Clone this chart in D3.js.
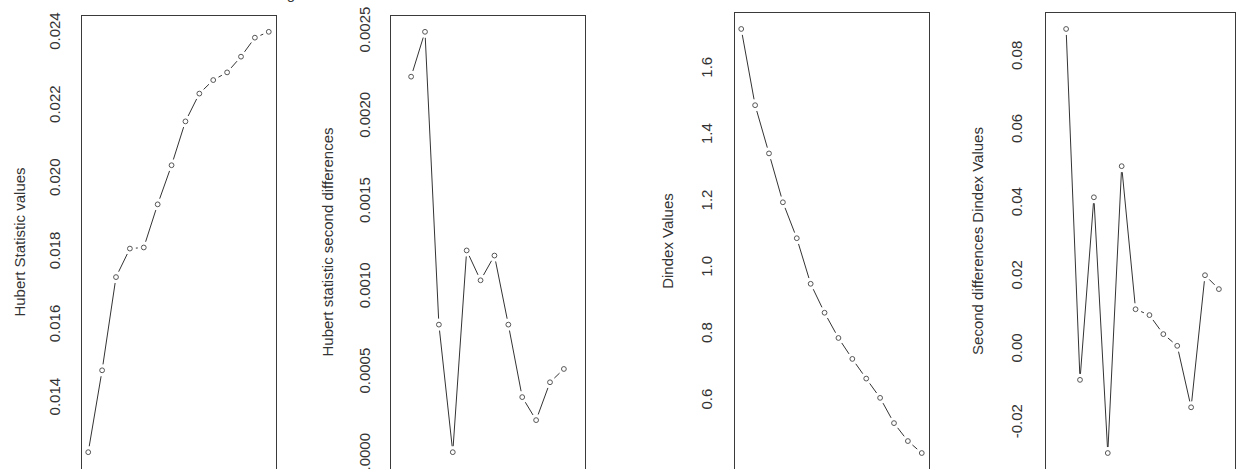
<!DOCTYPE html>
<html>
<head>
<meta charset="utf-8">
<script src="https://cdn.jsdelivr.net/npm/d3@7"></script>
<style>
  html, body { margin: 0; padding: 0; background: #fff; }
  svg { display: block; font-family: "Liberation Sans", Arial, sans-serif; }
</style>
</head>
<body>
<svg id="chart" width="1237" height="469"></svg>
<script>
// number of clusters on the (cropped) x axis
const clusters = [2, 3, 4, 5, 6, 7, 8, 9, 10, 11, 12, 13, 14, 15];
const diffClusters = [3, 4, 5, 6, 7, 8, 9, 10, 11, 12, 13, 14];

// values
const hubert = [0.01248, 0.01472, 0.01727, 0.01805, 0.01808, 0.01926, 0.02033,
  0.02153, 0.02229, 0.02266, 0.02287, 0.02330, 0.02382, 0.02398];
const hubertDiff = [0.002224, 0.002487, 0.000770, 0.000022, 0.001205, 0.001030,
  0.001175, 0.000770, 0.000345, 0.000210, 0.000432, 0.000510];
const dindex = [1.7155, 1.4857, 1.3404, 1.1931, 1.0848, 0.9474, 0.8602,
  0.7841, 0.7210, 0.6617, 0.6036, 0.5275, 0.4734, 0.4373];
const dindexDiff = [0.0872, -0.0087, 0.0412, -0.0287, 0.0497, 0.0106,
  0.0090, 0.0038, 0.0006, -0.0162, 0.0199, 0.0161];

// tick labels
const hubertTicks = [0.014, 0.016, 0.018, 0.020, 0.022, 0.024];
const hubertDiffTicks = [0, 0.0005, 0.0010, 0.0015, 0.0020, 0.0025];
const dindexTicks = [0.6, 0.8, 1.0, 1.2, 1.4, 1.6];
const dindexDiffTicks = [-0.02, 0, 0.02, 0.04, 0.06, 0.08];

const svg = d3.select('#chart');

// R prints a plain hyphen for negatives
const rfmt = spec => {
  const f = d3.format(spec);
  return d => f(d).replace('\u2212', '-');
};

// R style plot panels, bottom part is cut off by the window
const panels = [
  { left: 81, width: 195, top: 15, bottom: 469, xs: clusters, ys: hubert,
    ticks: hubertTicks, fmt: rfmt('.3f'), title: 'Hubert Statistic values', tickOff: 21, titleOff: 56 },
  { left: 390, width: 195, top: 15, bottom: 469, xs: diffClusters, ys: hubertDiff,
    ticks: hubertDiffTicks, fmt: rfmt('.4f'), title: 'Hubert statistic second differences', tickOff: 20, titleOff: 57 },
  { left: 734, width: 195, top: 12, bottom: 470, xs: clusters, ys: dindex,
    ticks: dindexTicks, fmt: rfmt('.1f'), title: 'Dindex Values', tickOff: 22, titleOff: 61 },
  { left: 1045, width: 190, top: 12, bottom: 470, xs: diffClusters, ys: dindexDiff,
    ticks: dindexDiffTicks, fmt: rfmt('.2f'), title: 'Second differences Dindex Values', tickOff: 23, titleOff: 62 }
];

panels.forEach(p => {
  const g = svg.append('g');

  // R pads the data range by 4% on each side
  const x = d3.scaleLinear().domain([1.48, 15.52]).range([p.left, p.left + 195]);
  const [lo, hi] = d3.extent(p.ys);
  const pad = (hi - lo) * 0.04;
  const y = d3.scaleLinear().domain([lo - pad, hi + pad]).range([p.bottom, p.top]);

  g.append('rect')
    .attr('x', p.left + 0.5)
    .attr('y', p.top + 0.5)
    .attr('width', p.width)
    .attr('height', p.bottom - p.top)
    .attr('fill', 'none')
    .attr('stroke', '#3a3a3a')
    .attr('stroke-width', 1);

  // rotated tick labels, like las = 0
  g.selectAll('text.tick')
    .data(p.ticks)
    .enter().append('text')
    .attr('class', 'tick')
    .attr('transform', d => `translate(${p.left - p.tickOff},${y(d)}) rotate(-90)`)
    .attr('text-anchor', 'middle')
    .attr('font-size', 15)
    .attr('fill', '#333')
    .text(d => p.fmt(d));

  g.append('text')
    .attr('transform', `translate(${p.left - p.titleOff},${(p.top + p.bottom) / 2}) rotate(-90)`)
    .attr('text-anchor', 'middle')
    .attr('font-size', 15)
    .attr('fill', '#333')
    .text(p.title);

  const pts = p.xs.map((k, i) => [x(k), y(p.ys[i])]);

  // type = "b": segments stop short of the points
  const gap = 6;
  const segs = d3.pairs(pts).filter(([a, b]) => Math.hypot(b[0] - a[0], b[1] - a[1]) > gap * 2 + 1);
  g.selectAll('line')
    .data(segs)
    .enter().append('line')
    .each(function ([a, b]) {
      const len = Math.hypot(b[0] - a[0], b[1] - a[1]);
      const ux = (b[0] - a[0]) / len, uy = (b[1] - a[1]) / len;
      d3.select(this)
        .attr('x1', a[0] + ux * gap).attr('y1', a[1] + uy * gap)
        .attr('x2', b[0] - ux * gap).attr('y2', b[1] - uy * gap);
    })
    .attr('stroke', '#333')
    .attr('stroke-width', 1);

  g.selectAll('circle')
    .data(pts)
    .enter().append('circle')
    .attr('cx', d => d[0])
    .attr('cy', d => d[1])
    .attr('r', 2.4)
    .attr('fill', 'none')
    .attr('stroke', '#555')
    .attr('stroke-width', 1);
});

// descender of a title cut off at the top edge
svg.append('text')
  .attr('x', 291)
  .attr('y', -1)
  .attr('text-anchor', 'middle')
  .attr('font-size', 15)
  .attr('fill', '#333')
  .text('g');
</script>
</body>
</html>
